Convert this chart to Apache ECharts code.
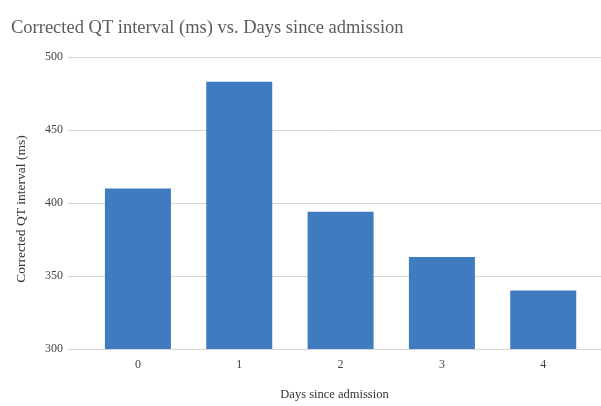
<!DOCTYPE html>
<html>
<head>
<meta charset="utf-8">
<script src="https://cdn.jsdelivr.net/npm/echarts@6/dist/echarts.min.js"></script>
<style>
html,body{margin:0;padding:0;background:#fff;}
#c{width:601px;height:406px;}
</style>
</head>
<body>
<div id="c"></div>
<script>
const days = [0, 1, 2, 3, 4];
const qtc = [410, 483, 394, 363, 340];
const yTicks = [300, 350, 400, 450, 500];

const FONT = '"Liberation Serif", "DejaVu Serif", serif';
const chart = echarts.init(document.getElementById('c'));
chart.setOption({
  animation: false,
  backgroundColor: '#ffffff',
  title: {
    text: 'Corrected QT interval (ms) vs. Days since admission',
    left: 6, top: 14,
    textStyle: {fontFamily: FONT, fontSize: 18.5, fontWeight: 'normal', color: '#5b5b5b'}
  },
  grid: {left: 68, right: 0, top: 57, bottom: 57, outerBoundsMode: 'none', containLabel: false},
  xAxis: {
    type: 'value', min: -0.69, max: 4.57,
    name: 'Days since admission', nameLocation: 'middle', nameGap: 39,
    nameTextStyle: {fontFamily: FONT, fontSize: 12.5, color: '#333'},
    axisLine: {show: false}, axisTick: {show: false},
    splitLine: {show: false},
    axisLabel: {customValues: days, margin: 10, fontFamily: FONT, fontSize: 12, color: '#444'}
  },
  yAxis: {
    type: 'value', min: yTicks[0], max: yTicks[yTicks.length - 1], interval: 50,
    name: 'Corrected QT interval (ms)', nameLocation: 'middle', nameGap: 40,
    nameTextStyle: {fontFamily: FONT, fontSize: 13.5, color: '#333', padding: [0, 12, 0, 0]},
    axisLine: {show: false}, axisTick: {show: false},
    axisLabel: {margin: 5, fontFamily: FONT, fontSize: 12, color: '#444'},
    splitLine: {lineStyle: {color: '#d6d6d6', width: 1}}
  },
  series: [{
    type: 'bar',
    barWidth: 66,
    data: days.map((d, i) => [d, qtc[i]]),
    itemStyle: {color: '#3e7bbf'}
  }]
});
</script>
</body>
</html>
